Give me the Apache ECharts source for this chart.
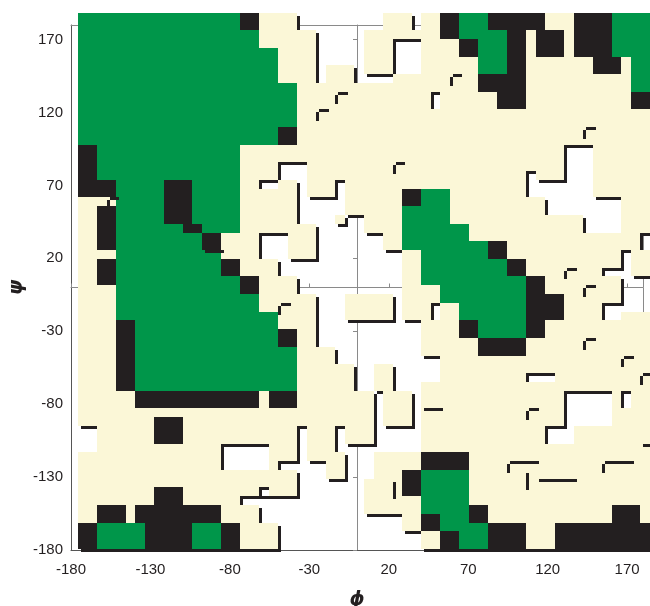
<!DOCTYPE html>
<html><head><meta charset="utf-8">
<script src="https://cdn.jsdelivr.net/npm/echarts@6/dist/echarts.min.js"></script>
<style>html,body{margin:0;padding:0;background:#fff}#c{width:650px;height:606px}</style>
</head><body><div id="c"></div><script>
// Grid of regions: 60 phi columns x 61 psi rows (row 0 at top), 6 degree cells
const PHI0 = -175.6, DPHI = 6.0, NCOL = 60;
const PSI_TOP = 188.4, DPSI = 6.028, NROW = 61;
const xTicks = [-180, -130, -80, -30, 20, 70, 120, 170];
const yTicks = [-180, -130, -80, -30, 20, 70, 120, 170];

// rectangles in cell units: [col0, col1, row0, row1] (end exclusive)
const whiteRegions = [
  [23,32,0,2],[35,36,0,2],[25,30,2,6],[25,26,6,8],[29,30,6,8],[33,36,3,7],[30,33,7,8],
  [21,24,17,19],[19,21,19,20],[23,24,19,24],[27,28,19,23],[24,27,21,24],
  [28,30,23,32],[30,32,25,32],[32,34,27,32],[25,28,24,32],[19,22,25,28],[21,25,28,30],[23,25,30,32],
  [25,28,32,35],[33,34,32,35],[25,34,35,38],[27,34,38,40],[29,31,40,43],[33,36,40,43],[34,36,35,40],
  [31,32,43,49],[35,36,43,47],[31,36,47,50],[27,28,47,50],[28,31,49,53],[23,24,47,53],[24,26,51,53],
  [23,30,53,61],[21,23,51,52],[20,23,55,58],[21,23,58,61],[19,20,54,58],[17,19,55,56],
  [30,34,57,61],[34,36,59,61],[15,20,49,52],[0,2,47,50],
  [37,38,9,11],[51,54,15,19],[47,48,18,21],[48,54,19,21],[49,53,21,23],[53,57,21,25],
  [59,60,25,27],[57,58,27,29],[55,58,29,30],[57,60,30,34],[55,57,33,35],
  [37,38,33,35],[36,38,39,42],[47,50,41,42],[51,56,43,47],[57,58,43,45],[49,52,47,49]
];
const creamRegions = [[24,27,19,21],[22,25,24,27],[28,33,32,35],[32,35,43,47]];
const greenRegions = [
  [0,17,0,2],[0,19,2,4],[0,21,4,8],[0,23,8,13],[0,21,13,15],[2,17,15,19],[4,17,19,25],
  [4,13,25,27],[4,15,27,30],[4,17,30,32],[4,19,32,34],[4,21,34,35],[6,21,35,38],[6,23,38,43],
  [2,7,58,61],[12,15,58,61],
  [36,39,20,22],[34,39,22,24],[34,41,24,26],[34,43,26,27],[36,43,27,28],[36,45,28,30],[36,47,30,31],
  [38,47,31,33],[40,47,33,35],[42,47,35,37],
  [40,43,0,3],[42,45,2,7],[56,60,0,5],[58,60,5,9],
  [36,41,52,57],[38,41,57,59],[41,43,58,61],[40,41,59,61]
];
const blackRegions = [
  [17,19,0,2],[21,23,13,15],[0,2,15,21],[2,4,19,21],[9,12,19,24],[11,13,24,25],[13,15,25,27],
  [15,17,28,30],[17,19,30,32],[2,4,22,27],[2,4,28,31],[21,23,36,38],[4,6,35,43],[6,19,43,45],
  [20,23,43,45],[8,11,46,49],[8,11,54,56],[2,5,56,58],[6,15,56,58],[0,2,58,61],[7,12,58,61],[15,17,58,61],
  [34,36,20,22],[43,45,26,28],[45,47,28,30],[47,49,30,37],[49,51,32,35],[40,42,35,37],[42,47,37,39],
  [38,40,0,3],[40,42,3,5],[43,49,0,2],[45,47,2,11],[42,45,7,9],[44,47,9,11],[48,51,2,5],
  [52,56,0,5],[54,57,5,7],[58,60,9,11],
  [36,41,50,52],[34,36,52,55],[41,43,56,58],[36,38,57,59],[38,40,59,61],[43,47,58,61],[50,60,58,61],[56,59,56,58]
];
// short edge marks: horizontal [col0, col1, row], vertical [col, row0, row1]
const hMarks = [[27,28,9],[25,26,11],[33,34,17],[39,40,7],[53,54,13],[51,52,29],[53,54,31],[53,54,37],
  [57,58,39],[59,60,41],[13,15,27],[21,22,33],[3,4,21],[36,38,45],[47,48,45],[59,60,49],[45,48,51],
  [55,58,51],[48,52,53],[17,20,55]];
const vMarks = [[27,9,10],[25,11,12],[33,17,18],[39,7,8],[53,13,14],[51,29,30],[53,31,32],[53,37,38],
  [57,39,40],[59,41,42],[21,33,34],[3,21,22],[47,45,46],[45,51,52],[55,51,52],[47,52,54],[33,53,55]];

const COLORS = ['#ffffff', '#fbf7d7', '#231f20', '#00964a'];
const SH = 3; // shadow thickness in px

const grid = [];
for (let r = 0; r < NROW; r++) { grid.push(new Array(NCOL).fill(1)); }
function paint(list, code) {
  list.forEach(([c0, c1, r0, r1]) => {
    for (let r = r0; r < r1; r++) for (let c = c0; c < c1; c++) grid[r][c] = code;
  });
}
paint(whiteRegions, 0); paint(creamRegions, 1); paint(greenRegions, 3); paint(blackRegions, 2);

const cells = [];
for (let r = 0; r < NROW; r++) for (let c = 0; c < NCOL; c++) if (grid[r][c] !== 0) cells.push([c, r, grid[r][c]]);
const marks = [];
hMarks.forEach(([c0, c1, r]) => marks.push([0, c0, c1, r]));
vMarks.forEach(([c, r0, r1]) => marks.push([1, c, r0, r1]));

const phiAt = c => PHI0 + c * DPHI;
const psiAt = r => PSI_TOP - r * DPSI;

const chart = echarts.init(document.getElementById('c'), null, {renderer: 'canvas'});
const labelStyle = {color: '#231f20', fontSize: 15, fontFamily: 'Liberation Sans, Arial, sans-serif'};
const gray = '#8a8a8a';
chart.setOption({
  animation: false,
  backgroundColor: '#ffffff',
  grid: {left: 71, top: 25, width: 572, height: 525, containLabel: false, outerBoundsMode: 'none'},
  xAxis: [
    {type: 'value', min: -180, max: 180, position: 'bottom',
     axisLine: {onZero: false, lineStyle: {color: '#555', width: 1}},
     axisTick: {show: false}, splitLine: {show: false},
     axisLabel: Object.assign({customValues: xTicks, margin: 12}, labelStyle),
     name: '\u03d5', nameLocation: 'middle', nameGap: 41, nameMoveOverlap: false,
     nameTextStyle: {fontSize: 19, fontStyle: 'italic', fontWeight: 'bold', color: '#231f20', fontFamily: 'DejaVu Sans'}},
    {type: 'value', min: -180, max: 180, position: 'bottom',
     axisLine: {onZero: true, onZeroAxisIndex: 0, lineStyle: {color: gray, width: 1}},
     axisTick: {show: true, inside: true, length: 4, customValues: xTicks, lineStyle: {color: gray}},
     axisLabel: {show: false}, splitLine: {show: false}},
    {type: 'value', min: -180, max: 180, position: 'top',
     axisLine: {onZero: false, lineStyle: {color: gray, width: 1}},
     axisTick: {show: false}, axisLabel: {show: false}, splitLine: {show: false}}
  ],
  yAxis: [
    {type: 'value', min: -180, max: 180, position: 'left',
     axisLine: {show: true, onZero: false, lineStyle: {color: '#555', width: 1}},
     axisTick: {show: false}, splitLine: {show: false},
     axisLabel: Object.assign({customValues: yTicks, margin: 8}, labelStyle),
     name: '\u03c8', nameLocation: 'middle', nameGap: 44, nameRotate: 90, nameMoveOverlap: false,
     nameTextStyle: {fontSize: 19, fontStyle: 'italic', fontWeight: 'bold', color: '#231f20', fontFamily: 'DejaVu Sans'}},
    {type: 'value', min: -180, max: 180, position: 'left',
     axisLine: {show: true, onZero: true, onZeroAxisIndex: 0, lineStyle: {color: gray, width: 1}},
     axisTick: {show: true, inside: false, length: 4, customValues: yTicks, lineStyle: {color: gray}},
     axisLabel: {show: false}, splitLine: {show: false}},
    {type: 'value', min: -180, max: 180, position: 'right',
     axisLine: {show: true, onZero: false, lineStyle: {color: gray, width: 1}},
     axisTick: {show: false}, axisLabel: {show: false}, splitLine: {show: false}}
  ],
  series: [
    {type: 'custom', xAxisIndex: 0, yAxisIndex: 0, clip: false, progressive: 0, z: 5,
     data: cells,
     renderItem: function (params, api) {
       const c = api.value(0), r = api.value(1), code = api.value(2);
       const p1 = api.coord([phiAt(c), psiAt(r)]);
       const p2 = api.coord([phiAt(c + 1), psiAt(r + 1)]);
       const x = Math.round(p1[0]), y = Math.round(p1[1]);
       return {type: 'rect', shape: {x: x, y: y, width: Math.round(p2[0]) - x, height: Math.round(p2[1]) - y},
         style: {fill: COLORS[code], shadowColor: '#231f20', shadowBlur: 0, shadowOffsetX: SH, shadowOffsetY: SH}};
     }},
    {type: 'custom', xAxisIndex: 0, yAxisIndex: 0, clip: false, progressive: 0, z: 6,
     data: marks,
     renderItem: function (params, api) {
       const t = api.value(0), a = api.value(1), b = api.value(2), d = api.value(3);
       let x0, x1, y0, y1;
       if (t === 0) {
         const p1 = api.coord([phiAt(a), psiAt(d)]), p2 = api.coord([phiAt(b), psiAt(d)]);
         x0 = Math.round(p1[0]) + SH; x1 = Math.round(p2[0]) + SH; y0 = Math.round(p1[1]); y1 = y0 + SH;
       } else {
         const p1 = api.coord([phiAt(a), psiAt(b)]), p2 = api.coord([phiAt(a), psiAt(d)]);
         x0 = Math.round(p1[0]); x1 = x0 + SH; y0 = Math.round(p1[1]) + SH; y1 = Math.round(p2[1]) + SH;
       }
       return {type: 'rect', shape: {x: x0, y: y0, width: x1 - x0, height: y1 - y0}, style: {fill: '#231f20'}};
     }}
  ]
});
</script></body></html>
